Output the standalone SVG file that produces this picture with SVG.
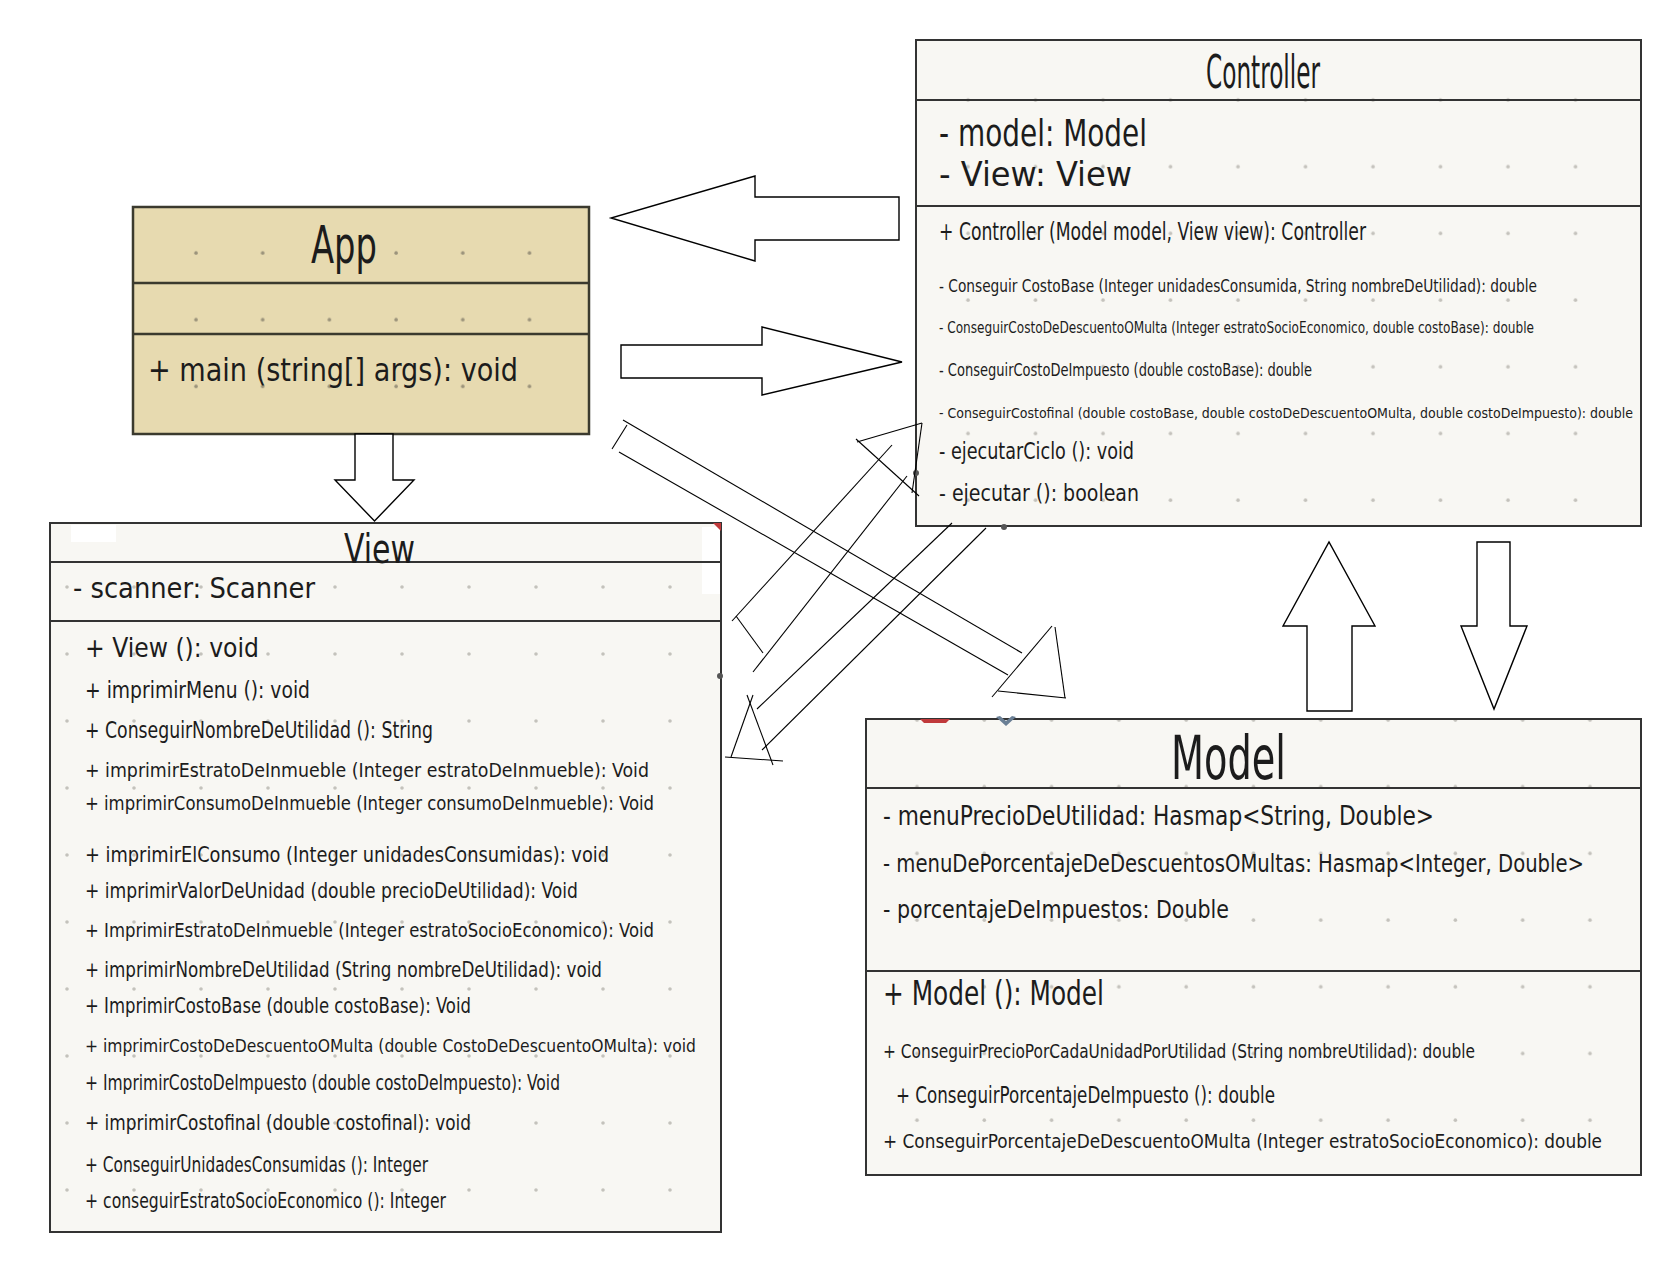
<svg xmlns="http://www.w3.org/2000/svg" width="1674" height="1275" viewBox="0 0 1674 1275">
<style>
.box{stroke:#333;stroke-width:2;}
.paper{fill:#f8f7f3;}
.tan{fill:#e7dab0;}
.div{stroke:#333;stroke-width:2;fill:none;}
.t{font-family:"DejaVu Sans Condensed","Liberation Sans Narrow","Liberation Sans",sans-serif;fill:#1c1c1c;}
.conn polygon{fill:#fff;stroke:#000;stroke-width:1.4;}
.conn line{stroke:#000;stroke-width:1.1;}
.h{fill:#555;}
</style>
<defs>
<pattern id="dApp" patternUnits="userSpaceOnUse" x="163" y="220" width="66.7" height="66.7"><circle cx="33" cy="33" r="1.8" fill="#9a927a"/></pattern>
<pattern id="dView" patternUnits="userSpaceOnUse" x="34" y="554" width="67" height="67"><circle cx="33" cy="33" r="1.8" fill="#c4c2bc"/></pattern>
<pattern id="dCtrl" patternUnits="userSpaceOnUse" x="935" y="67" width="67.5" height="66.7"><circle cx="33" cy="33" r="1.8" fill="#c4c2bc"/></pattern>
<pattern id="dModel" patternUnits="userSpaceOnUse" x="884" y="687" width="67.3" height="66.7"><circle cx="33" cy="33" r="1.8" fill="#c4c2bc"/></pattern>
</defs>
<rect width="1674" height="1275" fill="#ffffff"/>

<g id="controller">
<rect class="paper" x="916" y="40" width="725" height="486"/>
<rect x="916" y="40" width="725" height="486" fill="url(#dCtrl)"/>
<rect class="box" x="916" y="40" width="725" height="486" fill="none"/>
<line class="div" x1="916" y1="100" x2="1641" y2="100"/>
<line class="div" x1="916" y1="206" x2="1641" y2="206"/>
<text class="t" x="1206" y="88" font-size="46" textLength="114" lengthAdjust="spacingAndGlyphs">Controller</text>
<text class="t" x="939" y="146" font-size="38" textLength="208" lengthAdjust="spacingAndGlyphs">- model: Model</text>
<text class="t" x="939" y="186" font-size="34" textLength="193" lengthAdjust="spacingAndGlyphs">- View: View</text>
<text class="t" x="939" y="240" font-size="25" textLength="427" lengthAdjust="spacingAndGlyphs">+ Controller (Model model, View view): Controller</text>
<text class="t" x="939" y="292" font-size="17.5" textLength="598" lengthAdjust="spacingAndGlyphs">- Conseguir CostoBase (Integer unidadesConsumida, String nombreDeUtilidad): double</text>
<text class="t" x="939" y="333" font-size="15.5" textLength="595" lengthAdjust="spacingAndGlyphs">- ConseguirCostoDeDescuentoOMulta (Integer estratoSocioEconomico, double costoBase): double</text>
<text class="t" x="939" y="376" font-size="18" textLength="373" lengthAdjust="spacingAndGlyphs">- ConseguirCostoDeImpuesto (double costoBase): double</text>
<text class="t" x="939" y="418" font-size="13.5" textLength="694" lengthAdjust="spacingAndGlyphs">- ConseguirCostofinal (double costoBase, double costoDeDescuentoOMulta, double costoDeImpuesto): double</text>
<text class="t" x="939" y="459" font-size="23" textLength="195" lengthAdjust="spacingAndGlyphs">- ejecutarCiclo (): void</text>
<text class="t" x="939" y="501" font-size="23" textLength="200" lengthAdjust="spacingAndGlyphs">- ejecutar (): boolean</text>
<circle class="h" cx="916" cy="473" r="3"/>
<circle class="h" cx="1004" cy="527" r="3"/>
</g>

<g id="app">
<rect class="tan" x="133" y="207" width="456" height="227"/>
<rect x="133" y="207" width="456" height="227" fill="url(#dApp)"/>
<rect x="133" y="207" width="456" height="227" fill="none" stroke="#3b3a2e" stroke-width="2.5"/>
<line x1="133" y1="283" x2="589" y2="283" stroke="#3b3a2e" stroke-width="2.5"/>
<line x1="133" y1="334" x2="589" y2="334" stroke="#3b3a2e" stroke-width="2.5"/>
<text class="t" x="311" y="263" font-size="52" textLength="66" lengthAdjust="spacingAndGlyphs">App</text>
<text class="t" x="148" y="381" font-size="32" textLength="370" lengthAdjust="spacingAndGlyphs">+ main (string[] args): void</text>
</g>

<g id="view">
<rect class="paper" x="50" y="523" width="671" height="709"/>
<rect x="50" y="523" width="671" height="709" fill="url(#dView)"/>
<rect x="71" y="525" width="45" height="17" fill="#ffffff"/>
<rect x="702" y="527" width="18" height="67" fill="#ffffff"/>
<rect class="box" x="50" y="523" width="671" height="709" fill="none"/>
<line class="div" x1="50" y1="562" x2="721" y2="562"/>
<line class="div" x1="50" y1="621" x2="721" y2="621"/>
<path d="M713 523 L721 523 L721 531 Z" fill="#c0393b"/>
<circle class="h" cx="720" cy="676" r="3"/>
<text class="t" x="344" y="563" font-size="40" textLength="71" lengthAdjust="spacingAndGlyphs">View</text>
<text class="t" x="73" y="598" font-size="28" textLength="242" lengthAdjust="spacingAndGlyphs">- scanner: Scanner</text>
<text class="t" x="85" y="657" font-size="27" textLength="174" lengthAdjust="spacingAndGlyphs">+ View (): void</text>
<text class="t" x="85" y="698" font-size="23" textLength="225" lengthAdjust="spacingAndGlyphs">+ imprimirMenu (): void</text>
<text class="t" x="85" y="738" font-size="23" textLength="348" lengthAdjust="spacingAndGlyphs">+ ConseguirNombreDeUtilidad (): String</text>
<text class="t" x="85" y="777" font-size="20" textLength="564" lengthAdjust="spacingAndGlyphs">+ imprimirEstratoDeInmueble (Integer  estratoDeInmueble): Void</text>
<text class="t" x="85" y="810" font-size="20" textLength="569" lengthAdjust="spacingAndGlyphs">+ imprimirConsumoDeInmueble (Integer  consumoDeInmueble): Void</text>
<text class="t" x="85" y="862" font-size="21" textLength="524" lengthAdjust="spacingAndGlyphs">+ imprimirElConsumo (Integer  unidadesConsumidas): void</text>
<text class="t" x="85" y="898" font-size="21" textLength="493" lengthAdjust="spacingAndGlyphs">+ imprimirValorDeUnidad (double  precioDeUtilidad): Void</text>
<text class="t" x="85" y="937" font-size="19" textLength="569" lengthAdjust="spacingAndGlyphs">+ ImprimirEstratoDeInmueble (Integer  estratoSocioEconomico): Void</text>
<text class="t" x="85" y="977" font-size="21" textLength="517" lengthAdjust="spacingAndGlyphs">+ imprimirNombreDeUtilidad (String  nombreDeUtilidad): void</text>
<text class="t" x="85" y="1013" font-size="22" textLength="386" lengthAdjust="spacingAndGlyphs">+ ImprimirCostoBase (double  costoBase): Void</text>
<text class="t" x="85" y="1052" font-size="18" textLength="611" lengthAdjust="spacingAndGlyphs">+ imprimirCostoDeDescuentoOMulta (double  CostoDeDescuentoOMulta): void</text>
<text class="t" x="85" y="1090" font-size="21" textLength="475" lengthAdjust="spacingAndGlyphs">+ ImprimirCostoDeImpuesto (double  costoDeImpuesto): Void</text>
<text class="t" x="85" y="1130" font-size="22" textLength="386" lengthAdjust="spacingAndGlyphs">+ imprimirCostofinal (double  costofinal): void</text>
<text class="t" x="85" y="1172" font-size="22" textLength="343" lengthAdjust="spacingAndGlyphs">+ ConseguirUnidadesConsumidas (): Integer</text>
<text class="t" x="85" y="1208" font-size="22" textLength="361" lengthAdjust="spacingAndGlyphs">+ conseguirEstratoSocioEconomico (): Integer</text>
</g>

<g id="model">
<rect class="paper" x="866" y="719" width="775" height="456"/>
<rect x="866" y="719" width="775" height="456" fill="url(#dModel)"/>
<rect class="box" x="866" y="719" width="775" height="456" fill="none"/>
<line class="div" x1="866" y1="788" x2="1641" y2="788"/>
<line class="div" x1="866" y1="971" x2="1641" y2="971"/>
<path d="M920 719 L950 719 L946 723 L924 723 Z" fill="#c0393b"/>
<path d="M996 717 L1006 726 L1016 717 L1012 716 L1006 721 L1000 716 Z" fill="#6a7f95"/>
<text class="t" x="1171" y="779" font-size="60" textLength="115" lengthAdjust="spacingAndGlyphs">Model</text>
<text class="t" x="883" y="825" font-size="26" textLength="551" lengthAdjust="spacingAndGlyphs">- menuPrecioDeUtilidad: Hasmap&lt;String, Double&gt;</text>
<text class="t" x="883" y="872" font-size="24" textLength="701" lengthAdjust="spacingAndGlyphs">- menuDePorcentajeDeDescuentosOMultas: Hasmap&lt;Integer, Double&gt;</text>
<text class="t" x="883" y="918" font-size="25" textLength="346" lengthAdjust="spacingAndGlyphs">- porcentajeDeImpuestos: Double</text>
<text class="t" x="883" y="1005" font-size="33" textLength="221" lengthAdjust="spacingAndGlyphs">+ Model (): Model</text>
<text class="t" x="883" y="1058" font-size="20" textLength="592" lengthAdjust="spacingAndGlyphs">+ ConseguirPrecioPorCadaUnidadPorUtilidad (String nombreUtilidad): double</text>
<text class="t" x="896" y="1103" font-size="23" textLength="379" lengthAdjust="spacingAndGlyphs">+ ConseguirPorcentajeDeImpuesto (): double</text>
<text class="t" x="883" y="1148" font-size="20" textLength="719" lengthAdjust="spacingAndGlyphs">+ ConseguirPorcentajeDeDescuentoOMulta (Integer estratoSocioEconomico): double</text>
</g>

<g id="connectors" class="conn">
<polygon points="899,197 755,197 755,176 611,218 755,261 755,240 899,240"/>
<polygon points="621,345 762,345 762,327 902,362 762,395 762,378 621,378"/>
<polygon points="355,434 355,480 335,480 374.5,521 414,480 393,480 393,434"/>
<polygon points="1307,711 1307,626 1283,626 1329,542 1375,626 1352,626 1352,711"/>
<polygon points="1477,542 1510,542 1510,626 1527,626 1494,709 1461,626 1477,626"/>
<line x1="612" y1="449" x2="627" y2="425"/>
<line x1="623" y1="420" x2="1022" y2="653"/>
<line x1="619" y1="452" x2="1008" y2="675"/>
<line x1="992" y1="697" x2="1052" y2="626"/>
<line x1="1055" y1="627" x2="1065" y2="698"/>
<line x1="998" y1="691" x2="1066" y2="698"/>
<line x1="892" y1="445" x2="732" y2="621"/>
<line x1="907" y1="476" x2="753" y2="672"/>
<line x1="736" y1="616" x2="763" y2="653"/>
<line x1="857" y1="442" x2="922" y2="423"/>
<line x1="922" y1="423" x2="912" y2="493"/>
<line x1="856" y1="439" x2="919" y2="496"/>
<line x1="952" y1="523" x2="757" y2="709"/>
<line x1="986" y1="528" x2="762" y2="750"/>
<line x1="747" y1="695" x2="773" y2="765"/>
<line x1="753" y1="695" x2="731" y2="757"/>
<line x1="725" y1="757" x2="783" y2="761"/>
</g>
</svg>
